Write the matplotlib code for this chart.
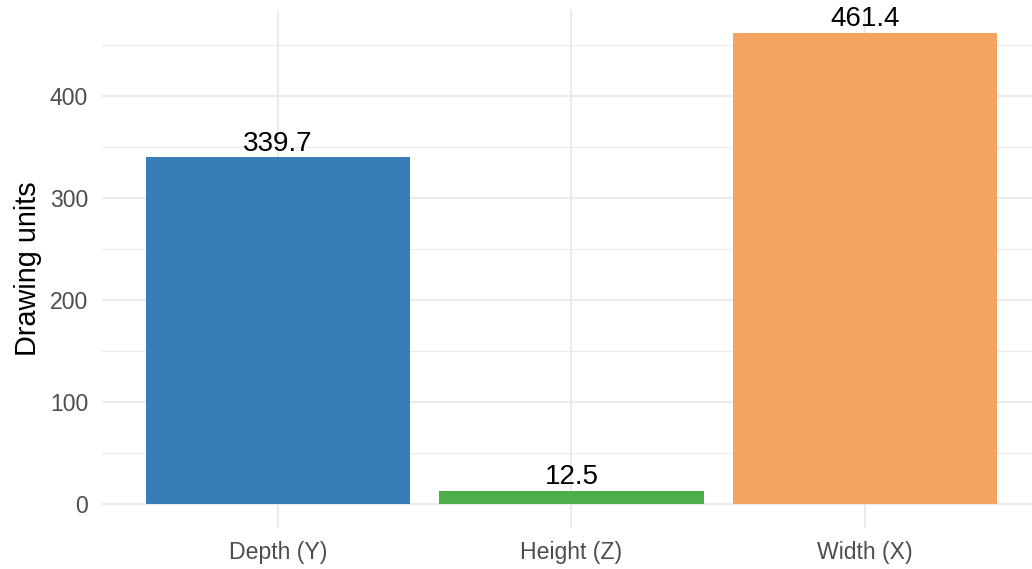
import matplotlib
matplotlib.use("Agg")
import matplotlib.pyplot as plt
from matplotlib.ticker import MultipleLocator

plt.rcParams['font.family'] = ['Liberation Sans', 'DejaVu Sans']

categories = ["Depth (Y)", "Height (Z)", "Width (X)"]
values = [339.7, 12.5, 461.4]
colors = ["#377EB8", "#4DAF4A", "#F4A361"]
y_ticks = [0, 100, 200, 300, 400]

W, H = 1032, 569
fig = plt.figure(figsize=(W / 100, H / 100), dpi=100)
left, right = 102 / W, 1.0
bottom, top = (H - 527.5) / H, (H - 9.8) / H
ax = fig.add_axes([left, bottom, right - left, top - bottom])

x = list(range(1, len(categories) + 1))
ax.bar(x, values, width=0.9, color=colors, zorder=2)

for xi, v in zip(x, values):
    ax.annotate(f"{v:.1f}", (xi, v), xytext=(0, 5), textcoords="offset points",
                ha="center", va="baseline", fontsize=20, color="black", zorder=3)

ymax = max(values)
pad = 0.05 * ymax
ax.set_ylim(-pad, ymax + pad)
ax.set_xlim(0.4, 3.6 - 9 / 294)

ax.set_xticks(x)
ax.set_xticklabels(categories)
ax.set_yticks(y_ticks)
ax.yaxis.set_minor_locator(MultipleLocator(50))

ax.grid(which="major", color="#EBEBEB", linewidth=1.5, zorder=0)
ax.grid(which="minor", axis="y", color="#EBEBEB", linewidth=0.75, zorder=0)
ax.set_axisbelow(True)

for s in ax.spines.values():
    s.set_visible(False)
ax.tick_params(which="both", length=0)
ax.tick_params(axis="y", pad=10, labelsize=16.6, labelcolor="#4D4D4D")
ax.tick_params(axis="x", pad=9.5, labelsize=16.6, labelcolor="#4D4D4D")

ax.set_ylabel("Drawing units", fontsize=20.8, color="black", labelpad=5.5)

fig.savefig("out.png", dpi=100)
